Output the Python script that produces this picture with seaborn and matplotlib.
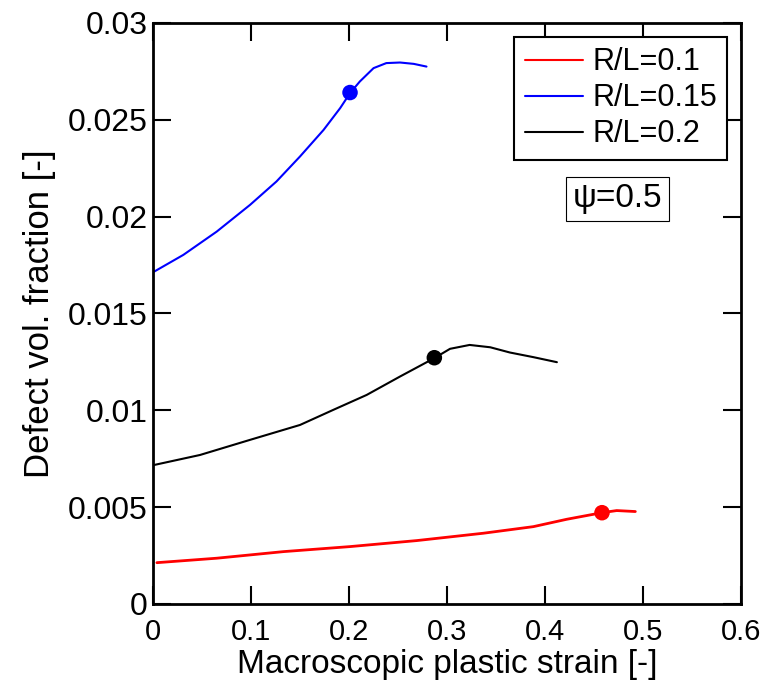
import numpy as np
import pandas as pd
import matplotlib
matplotlib.use("Agg")
import matplotlib.pyplot as plt
import seaborn as sns

# values
strain_01 = [0.004, 0.065, 0.133, 0.201, 0.269, 0.337, 0.388, 0.422, 0.458, 0.473, 0.492]
frac_01 = [0.00213, 0.00236, 0.00270, 0.00296, 0.00327, 0.00365, 0.00399, 0.00437, 0.00471, 0.00482, 0.00477]

strain_015 = [0.0, 0.031, 0.065, 0.099, 0.126, 0.150, 0.174, 0.191, 0.201, 0.211, 0.225,
              0.238, 0.252, 0.266, 0.279]
frac_015 = [0.01712, 0.01802, 0.01922, 0.02060, 0.02181, 0.02310, 0.02447, 0.02560, 0.02637,
            0.02697, 0.02766, 0.02792, 0.02795, 0.02788, 0.02774]

strain_02 = [0.0, 0.048, 0.099, 0.150, 0.184, 0.218, 0.252, 0.287, 0.303, 0.323, 0.344,
             0.364, 0.388, 0.412]
frac_02 = [0.00716, 0.00769, 0.00847, 0.00924, 0.01002, 0.01079, 0.01174, 0.01269, 0.01317,
           0.01337, 0.01325, 0.01298, 0.01274, 0.01248]

labels = ["R/L=0.1", "R/L=0.15", "R/L=0.2"]
colors = ["#ff0000", "#0000ff", "#000000"]
onset_strain = [0.458, 0.201, 0.287]
onset_frac = [0.00471, 0.02640, 0.01271]

df = pd.concat([
    pd.DataFrame({"strain": strain_01, "frac": frac_01, "case": labels[0]}),
    pd.DataFrame({"strain": strain_015, "frac": frac_015, "case": labels[1]}),
    pd.DataFrame({"strain": strain_02, "frac": frac_02, "case": labels[2]}),
])
pts = pd.DataFrame({"strain": onset_strain, "frac": onset_frac, "case": labels})

sns.set_style("ticks")
plt.rcParams.update({
    "font.family": ["Liberation Sans", "DejaVu Sans"],
    "text.color": "black",
    "axes.labelcolor": "black",
    "axes.edgecolor": "black",
    "xtick.color": "black",
    "ytick.color": "black",
})

fig = plt.figure(figsize=(7.61, 6.91), dpi=100)
ax = fig.add_axes([0.201, 0.126, 0.773, 0.841])

palette = dict(zip(labels, colors))
sns.lineplot(data=df, x="strain", y="frac", hue="case", palette=palette,
             sort=False, estimator=None, ax=ax, linewidth=1.5)
# red curve is drawn a bit heavier in the original
ax.get_lines()[0].set_linewidth(2.0)
sns.scatterplot(data=pts, x="strain", y="frac", hue="case", palette=palette,
                s=125, edgecolor="none", ax=ax, legend=False, zorder=5)

ax.set_xlim(0, 0.6)
ax.set_ylim(0, 0.03)
ax.set_xticks(np.arange(0, 0.61, 0.1))
ax.set_xticklabels(["0", "0.1", "0.2", "0.3", "0.4", "0.5", "0.6"])
ax.set_yticks(np.arange(0, 0.0301, 0.005))
ax.set_yticklabels(["0", "0.005", "0.01", "0.015", "0.02", "0.025", "0.03"])
ax.tick_params(direction="in", length=13, width=1.5, top=True, right=True)
ax.tick_params(axis="x", pad=10, labelsize=21)
ax.tick_params(axis="y", pad=4, labelsize=23)
for s in ax.spines.values():
    s.set_linewidth(2.0)
ax.set_xlabel("Macroscopic plastic strain [-]", fontsize=24, labelpad=2)
ax.set_ylabel("Defect vol. fraction [-]", fontsize=25, labelpad=8)

leg = ax.legend(loc="upper right", fontsize=22, frameon=True, fancybox=False,
                edgecolor="black", framealpha=1.0, handlelength=1.9, borderaxespad=0.45,
                labelspacing=0.2, handletextpad=0.3, borderpad=0.35)
leg.get_frame().set_linewidth(1.5)
for h in leg.get_lines():
    h.set_linewidth(1.5)

ax.text(0.790, 0.697, "\u03c8=0.5", transform=ax.transAxes, fontsize=24,
        ha="center", va="center",
        bbox=dict(boxstyle="square,pad=0.2", facecolor="white", edgecolor="black", linewidth=0.8))

fig.savefig("out.png", dpi=100)
